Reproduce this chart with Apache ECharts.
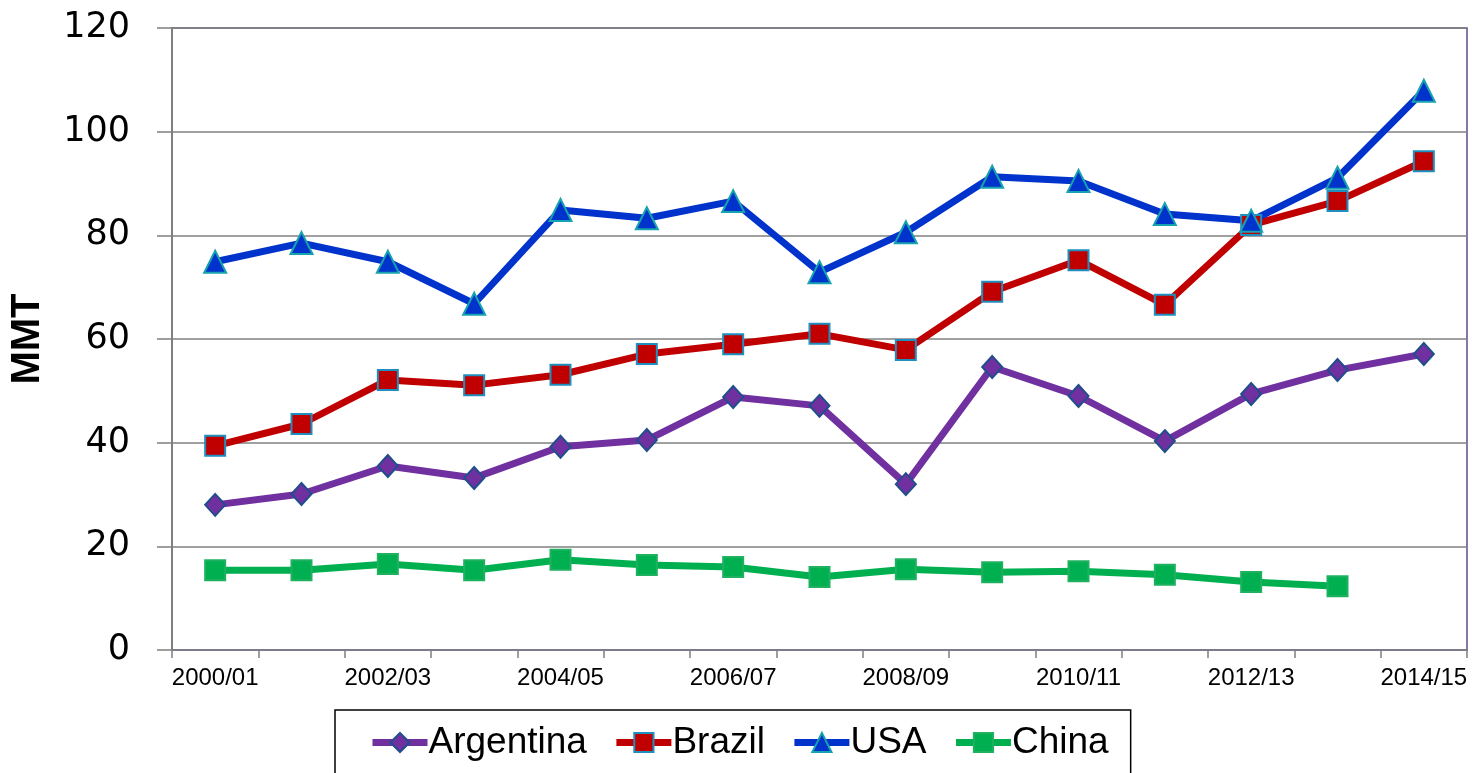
<!DOCTYPE html>
<html>
<head>
<meta charset="utf-8">
<script src="https://cdn.jsdelivr.net/npm/echarts@6/dist/echarts.min.js"></script>
<style>
  html, body { margin: 0; padding: 0; background: #fff; }
  #chart { width: 1476px; height: 773px; }
</style>
</head>
<body>
<div id="chart"></div>
<script>
  // 市场年度 (marketing years)
  const YEARS = ['2000/01', '2001/02', '2002/03', '2003/04', '2004/05', '2005/06', '2006/07', '2007/08',
    '2008/09', '2009/10', '2010/11', '2011/12', '2012/13', '2013/14', '2014/15'];

  // MMT
  const ARGENTINA = [28.0, 30.1, 35.5, 33.2, 39.2, 40.5, 48.8, 47.1, 32.0, 54.6, 49.0, 40.3, 49.4, 54.0, 57.1];
  const BRAZIL = [39.4, 43.6, 52.1, 51.1, 53.1, 57.1, 59.0, 61.0, 57.9, 69.1, 75.2, 66.6, 82.0, 86.6, 94.3];
  const USA = [74.9, 78.5, 74.9, 66.8, 84.9, 83.3, 86.6, 72.9, 80.6, 91.3, 90.5, 84.1, 82.8, 91.1, 107.9];
  const CHINA = [15.4, 15.4, 16.6, 15.4, 17.4, 16.4, 16.0, 14.1, 15.6, 15.0, 15.2, 14.5, 13.1, 12.3, null];

  const Y_TICKS = { min: 0, max: 120, interval: 20 };

  function lineSeries(name, data, color, symbol, size, borderColor) {
    return {
      name: name,
      type: 'line',
      data: data,
      symbol: symbol,
      symbolSize: size,
      showAllSymbol: true,
      connectNulls: false,
      lineStyle: { color: color, width: 7 },
      itemStyle: { color: color, borderColor: borderColor, borderWidth: 2 },
      emphasis: { disabled: true }
    };
  }

  const chart = echarts.init(document.getElementById('chart'));
  chart.setOption({
    animation: false,
    backgroundColor: '#ffffff',
    grid: {
      left: 170, right: 9, top: 28, bottom: 123,
      show: true, borderColor: '#5f4b8b', borderWidth: 1.5, backgroundColor: 'transparent'
    },
    legend: {
      left: 335, top: 710,
      padding: [14, 22, 40, 34],
      itemGap: 26,
      itemWidth: 55, itemHeight: 24,
      borderColor: '#000', borderWidth: 1.5,
      lineStyle: { width: 7 },
      textStyle: { fontFamily: 'Liberation Sans', fontSize: 37, color: '#000', padding: [0, 0, 0, -4] },
      data: ['Argentina', 'Brazil', 'USA', 'China']
    },
    xAxis: {
      type: 'category',
      data: YEARS,
      boundaryGap: true,
      axisLine: { lineStyle: { color: '#7f7a8a', width: 2 } },
      axisTick: { show: true, interval: 0, length: 8, lineStyle: { color: '#7f7f7f', width: 1.5 } },
      axisLabel: {
        interval: 1, margin: 16,
        fontFamily: 'Liberation Sans', fontSize: 24, color: '#000'
      }
    },
    yAxis: {
      type: 'value',
      min: Y_TICKS.min, max: Y_TICKS.max, interval: Y_TICKS.interval,
      name: 'MMT',
      nameLocation: 'middle',
      nameGap: 124,
      nameRotate: 90,
      nameTextStyle: { fontFamily: 'Liberation Sans', fontWeight: 'bold', fontSize: 40, color: '#000' },
      axisLine: { show: true, lineStyle: { color: '#7f7f7f', width: 2 } },
      axisTick: { show: true, inside: false, length: 15, lineStyle: { color: '#7f7f7f', width: 1.5 } },
      axisLabel: { margin: 42, fontFamily: 'DejaVu Sans', fontSize: 35, color: '#000' },
      splitLine: { lineStyle: { color: '#808080', width: 1.5 } }
    },
    series: [
      lineSeries('Argentina', ARGENTINA, '#7030a0', 'diamond', [20, 22], '#1f4e8c'),
      lineSeries('Brazil', BRAZIL, '#c00000', 'rect', 20, '#1f8fbf'),
      lineSeries('USA', USA, '#0033cc', 'triangle', 22, '#17a2b0'),
      lineSeries('China', CHINA, '#00b050', 'rect', 20, '#1fb060')
    ]
  });
</script>
</body>
</html>
